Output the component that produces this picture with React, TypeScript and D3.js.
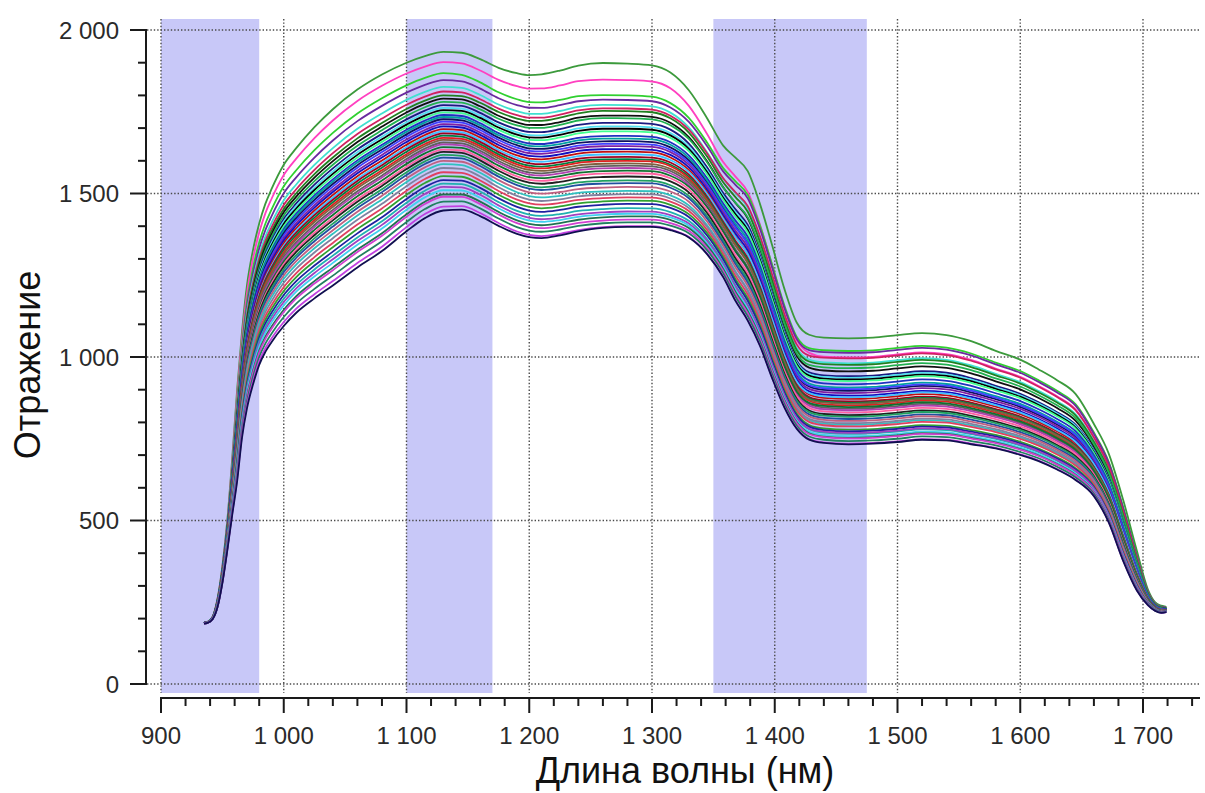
import React from 'react';
import * as d3 from 'd3';

// Wavelength grid (nm) on which the envelope of the spectra was read
const wavelengths = [935, 938, 942, 946, 950, 954, 958, 962, 966, 970, 975, 980, 985, 990, 1000, 1010, 1025, 1040, 1060, 1080, 1100, 1115, 1130, 1145, 1160, 1175, 1190, 1200, 1210, 1225, 1240, 1260, 1280, 1300, 1315, 1330, 1345, 1358, 1368, 1378, 1388, 1398, 1408, 1418, 1428, 1440, 1460, 1480, 1500, 1520, 1540, 1560, 1580, 1600, 1615, 1630, 1645, 1660, 1672, 1684, 1695, 1704, 1710, 1715, 1719];

// Highest spectrum
const upperEnvelope = [188, 190, 205, 260, 360, 500, 690, 900, 1080, 1220, 1330, 1410, 1470, 1515, 1590, 1640, 1705, 1760, 1820, 1866, 1902, 1922, 1935, 1932, 1912, 1885, 1868, 1862, 1864, 1875, 1890, 1897, 1895, 1890, 1868, 1815, 1730, 1648, 1612, 1572, 1472, 1345, 1212, 1110, 1074, 1066, 1064, 1066, 1074, 1080, 1074, 1055, 1025, 998, 968, 935, 893, 800, 710, 565, 410, 290, 250, 240, 236];

// Lowest spectrum
const lowerEnvelope = [185, 187, 198, 235, 310, 410, 520, 625, 760, 850, 925, 985, 1025, 1055, 1105, 1145, 1190, 1230, 1285, 1335, 1395, 1435, 1458, 1460, 1440, 1410, 1385, 1375, 1372, 1380, 1392, 1402, 1405, 1405, 1395, 1372, 1320, 1250, 1178, 1118, 1040, 940, 850, 785, 752, 742, 738, 740, 745, 752, 750, 738, 725, 705, 686, 660, 628, 578, 498, 378, 288, 242, 224, 218, 220];

// Reflectance of each spectrum read at ~1130 nm, ~1280 nm and ~1500 nm
const peakLevels = [1933, 1902, 1868, 1847, 1826, 1812, 1800, 1790, 1780, 1770, 1762, 1755, 1748, 1740, 1734, 1727, 1720, 1712, 1705, 1697, 1690, 1684, 1677, 1670, 1664, 1656, 1650, 1642, 1634, 1627, 1618, 1610, 1600, 1590, 1578, 1565, 1553, 1541, 1530, 1520, 1510, 1497, 1490, 1475, 1460, 1448];
const plateauLevels = [1897, 1847, 1800, 1786, 1770, 1760, 1752, 1738, 1730, 1716, 1705, 1698, 1690, 1676, 1668, 1660, 1652, 1645, 1636, 1628, 1620, 1612, 1605, 1600, 1592, 1585, 1578, 1570, 1562, 1552, 1540, 1532, 1520, 1508, 1498, 1488, 1478, 1468, 1455, 1445, 1438, 1430, 1420, 1412, 1400, 1398];
const shoulderLevels = [1067, 1008, 1028, 1022, 990, 1005, 985, 965, 975, 950, 945, 940, 935, 925, 915, 905, 910, 898, 890, 880, 885, 872, 868, 860, 865, 850, 845, 855, 838, 830, 825, 818, 812, 800, 805, 795, 785, 780, 772, 775, 765, 760, 758, 750, 742, 740];

const lineColors = ["#3c9a3c", "#ff40c0", "#30d030", "#6a2aa0", "#40e0d0", "#d02060", "#208020", "#101010", "#20b050", "#1a1a80", "#50e0f0", "#000000", "#40ff90", "#2030c0", "#00a0a0", "#101060", "#4040ff", "#8020a0", "#1010c0", "#c01010", "#40c0ff", "#a00020", "#008040", "#e02020", "#806040", "#606060", "#b040b0", "#107030", "#ff60a0", "#202020", "#20a060", "#2050a0", "#c06080", "#30c0c0", "#8080a0", "#e04060", "#30a030", "#2020a0", "#20b0b0", "#a040c0", "#40d0f0", "#207050", "#d040d0", "#208060", "#c040e0", "#101050"];

const bandStarts = [900, 1100, 1350];
const bandEnds = [980, 1170, 1475];

const xTicks = [900, 1000, 1100, 1200, 1300, 1400, 1500, 1600, 1700];
const yTicks = [0, 500, 1000, 1500, 2000];

const W = 1205;
const H = 793;
const plotLeft = 147;
const plotRight = 1200;
const plotTop = 19;
const plotBottom = 693;
const xAxisY = 698;
const yAxisX = 146;

const x = d3.scaleLinear().domain([900, 1700]).range([161, 1143]);
const y = d3.scaleLinear().domain([0, 2000]).range([684, 30]);

const locale = d3.formatLocale({ decimal: ',', thousands: ' ', grouping: [3], currency: ['', ''] });
const fmt = locale.format(',d');

const idx1130 = wavelengths.indexOf(1130);
const idx1280 = wavelengths.indexOf(1280);
const idx1500 = wavelengths.indexOf(1500);

function rel(v: number, k: number) {
  return (v - lowerEnvelope[k]) / (upperEnvelope[k] - lowerEnvelope[k]);
}

const spectra = peakLevels.map((p, i) => {
  const t = d3.scaleLinear()
    .domain([1130, 1260, 1320, 1440])
    .range([rel(p, idx1130), rel(plateauLevels[i], idx1280), rel(plateauLevels[i], idx1280), rel(shoulderLevels[i], idx1500)])
    .clamp(true);
  return wavelengths.map((w, k) => [w, lowerEnvelope[k] + t(w) * (upperEnvelope[k] - lowerEnvelope[k])] as [number, number]);
});

const line = d3.line<[number, number]>()
  .x(d => x(d[0]))
  .y(d => y(d[1]))
  .curve(d3.curveMonotoneX);

const xMinor = d3.range(900, 1750, 20).filter(v => x(v) <= plotRight);
const yMinor = d3.range(0, 2001, 100);

const tickFont = '"Liberation Sans", Arial, sans-serif';

export default function App() {
  return (
    <svg width={W} height={H} style={{ position: 'absolute', left: 0, top: 0, background: '#fff' }}>
      <rect x={0} y={0} width={W} height={H} fill="#fff" />
      {bandStarts.map((b, i) => (
        <rect key={'band' + i} x={x(b)} y={plotTop} width={x(bandEnds[i]) - x(b)} height={plotBottom - plotTop} fill="#c8c8f8" />
      ))}
      {yTicks.map(t => (
        <line key={'gy' + t} x1={plotLeft} x2={plotRight} y1={y(t)} y2={y(t)} stroke="#4a4a4a" strokeWidth={1.4} strokeDasharray="1.4 2" />
      ))}
      {xTicks.map(t => (
        <line key={'gx' + t} x1={x(t)} x2={x(t)} y1={plotTop} y2={plotBottom} stroke="#4a4a4a" strokeWidth={1.4} strokeDasharray="1.4 2" />
      ))}
      <g>
        {spectra.map((s, i) => (
          <path key={'s' + i} d={line(s) || ''} fill="none" stroke={lineColors[i]} strokeWidth={1.8} />
        ))}
      </g>
      {/* Y axis */}
      <line x1={yAxisX} x2={yAxisX} y1={y(2000) - 1} y2={y(0) + 1} stroke="#1a1a1a" strokeWidth={2} />
      {yMinor.map(t => (
        <line key={'ym' + t} x1={t % 500 === 0 ? 130 : 138} x2={yAxisX} y1={y(t)} y2={y(t)} stroke="#1a1a1a" strokeWidth={2} />
      ))}
      {yTicks.map(t => (
        <text key={'yl' + t} x={119} y={y(t)} dy="0.36em" textAnchor="end" fontFamily={tickFont} fontSize={24} fill="#2a2a2a">{fmt(t)}</text>
      ))}
      {/* X axis */}
      <line x1={x(900) - 1} x2={plotRight} y1={xAxisY} y2={xAxisY} stroke="#1a1a1a" strokeWidth={2} />
      {xMinor.map(t => (
        <line key={'xm' + t} x1={x(t)} x2={x(t)} y1={xAxisY} y2={t % 100 === 0 ? 713 : 706} stroke="#1a1a1a" strokeWidth={2} />
      ))}
      {xTicks.map(t => (
        <text key={'xl' + t} x={x(t)} y={744} textAnchor="middle" fontFamily={tickFont} fontSize={24} fill="#2a2a2a">{fmt(t)}</text>
      ))}
      <text x={685} y={783} textAnchor="middle" fontFamily={tickFont} fontSize={36} fill="#111">Длина волны (нм)</text>
      <text transform="translate(40,365) rotate(-90)" textAnchor="middle" fontFamily={tickFont} fontSize={36} fill="#111">Отражение</text>
    </svg>
  );
}
